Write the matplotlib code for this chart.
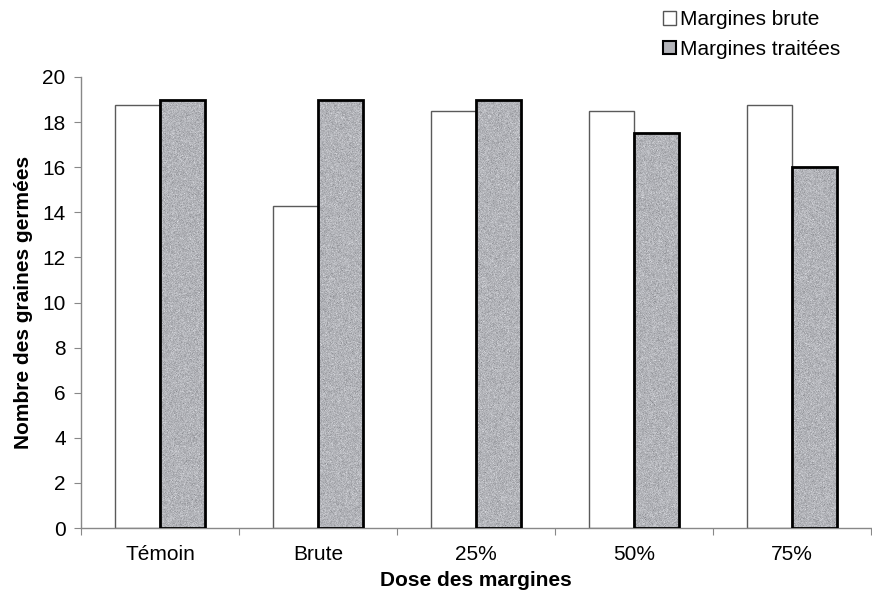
import numpy as np
import matplotlib
matplotlib.use("Agg")
import matplotlib.pyplot as plt
from matplotlib.patches import Patch

plt.rcParams["font.family"] = ["Liberation Sans", "DejaVu Sans"]

categories = ["Témoin", "Brute", "25%", "50%", "75%"]
brute = [18.75, 14.3, 18.5, 18.5, 18.75]
traitees = [19, 19, 19, 17.5, 16]
series_labels = ["Margines brute", "Margines traitées"]

fig = plt.figure(figsize=(8.72, 5.94), dpi=100)
W, H = 872, 594
ax = fig.add_axes([81 / W, 66 / H, (871 - 81) / W, 451 / H])

x = np.arange(len(categories))
width = 0.287
gray = (0.70, 0.705, 0.725)

ax.bar(x - width / 2, brute, width, color="white", edgecolor="#5a5a5a",
       linewidth=1.0, zorder=2)
grey_bars = ax.bar(x + width / 2, traitees, width, color=gray,
                   edgecolor="black", linewidth=2.0, zorder=3)

# stippled texture inside the grey bars
rng = np.random.default_rng(3)
for rect in grey_bars:
    x0, y0 = rect.get_x(), rect.get_y()
    w, h = rect.get_width(), rect.get_height()
    noise = rng.normal(0, 0.045, size=(int(h * 23), 48))
    img = np.clip(np.dstack([noise + c for c in gray]), 0, 1)
    im = ax.imshow(img, extent=(x0, x0 + w, y0, y0 + h), aspect="auto",
                   interpolation="nearest", zorder=2.5)
    im.set_clip_path(rect)
    rect.set_facecolor("none")

ax.set_xlim(-0.5, -0.5 + 790 / 160.25)
ax.set_ylim(0, 20)
ax.set_yticks(np.arange(0, 21, 2))

ax.set_xticks(np.arange(len(categories) + 1) - 0.5)
ax.set_xticklabels([])
ax.set_xticks(x, minor=True)
ax.set_xticklabels(categories, minor=True)
ax.tick_params(axis="x", which="minor", length=0, pad=12, labelsize=15)
ax.tick_params(axis="x", which="major", length=5, color="#888888",
               direction="out")
ax.tick_params(axis="y", length=5, color="#888888", pad=6, labelsize=15)

for side in ["top", "right"]:
    ax.spines[side].set_visible(False)
for side in ["left", "bottom"]:
    ax.spines[side].set_color("#888888")
    ax.spines[side].set_linewidth(1.0)

ax.set_xlabel("Dose des margines", fontsize=15, fontweight="bold", labelpad=5)
ax.set_ylabel("Nombre des graines germées", fontsize=15, fontweight="bold",
              labelpad=7)

handles = [
    Patch(facecolor="white", edgecolor="#555555", linewidth=1.0),
    Patch(facecolor=gray, edgecolor="black", linewidth=1.5),
]
fig.legend(handles, series_labels, loc="upper left",
           bbox_to_anchor=(653 / W, 1.0), frameon=False, fontsize=15,
           handlelength=0.6, handleheight=0.6, handletextpad=0.2,
           labelspacing=0.5, borderaxespad=0.1)

fig.savefig("out.png", dpi=100)
